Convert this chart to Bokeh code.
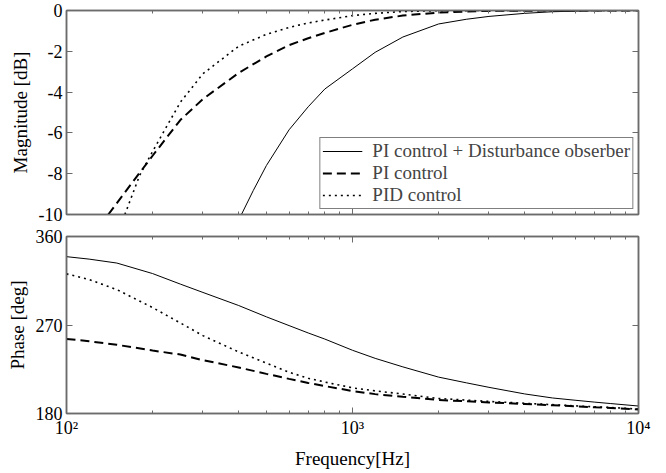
from bokeh.plotting import figure
from bokeh.layouts import column
from bokeh.models import (FixedTicker, LinearAxis, LogAxis, CustomJSTickFormatter,
                          Range1d, Legend, LegendItem)
from bokeh.embed import file_html
from bokeh.resources import INLINE

# ---------------- data ----------------
x_major = [100, 1000, 10000]
x_minor = [m * d for d in (100, 1000) for m in range(2, 10)]
x_tick_labels = {100: "10²", 1000: "10³", 10000: "10⁴"}
mag_ticks = [-10, -8, -6, -4, -2, 0]
phase_ticks = [180, 270, 360]

legend_labels = ["PI control + Disturbance obserber", "PI control", "PID control"]

mag_dob_freq = [409, 450, 500, 600, 700, 800, 1000, 1200, 1500, 2000, 2500, 3000, 4000, 5000, 7000, 10000]
mag_dob = [-10, -8.82, -7.6, -5.85, -4.72, -3.85, -2.86, -2.05, -1.3, -0.66, -0.43, -0.29, -0.14, -0.06, -0.01, 0]

mag_pi_freq = [140, 175, 200, 250, 300, 400, 500, 600, 700, 800, 1000, 1200, 1500, 2000, 2500, 3000, 5000, 10000]
mag_pi = [-10, -8.19, -7.12, -5.37, -4.34, -3.06, -2.25, -1.7, -1.36, -1.1, -0.7, -0.45, -0.25, -0.1, -0.05, -0.02, 0, 0]

mag_pid_freq = [160, 180, 200, 250, 300, 400, 500, 600, 700, 800, 1000, 1200, 1500, 2000, 3000, 10000]
mag_pid = [-10, -8.1, -6.91, -4.5, -3.1, -1.75, -1.17, -0.83, -0.61, -0.47, -0.25, -0.14, -0.05, -0.01, 0, 0]

phase_freq = [100, 120, 150, 200, 250, 300, 400, 500, 600, 700, 800, 1000, 1200, 1500,
              2000, 2500, 3000, 4000, 5000, 6000, 7000, 8000, 10000]
phase_dob = [339.5, 337, 333, 322.3, 311.6, 303.1, 289.8, 278.3, 269.4, 261.9, 255.7, 244.3,
             236.1, 227.4, 217, 211.2, 206.6, 199.9, 195.8, 193.5, 191.6, 190.1, 187.6]
phase_pi = [255.8, 253.5, 249.9, 244, 240, 234.2, 226.8, 220.3, 215.2, 211.1, 207.9, 202.9,
            199.7, 197, 193.7, 192.4, 191.3, 189.7, 188.4, 187.3, 186.3, 185.6, 184]
phase_pid = [322, 316.2, 306, 287.7, 272.1, 259.2, 242.6, 231.2, 222, 215.8, 212, 206.1,
             203, 199.8, 195.3, 193.6, 192.3, 190.4, 189, 187.8, 186.8, 186.1, 184.5]

# ---------------- style ----------------
FONT = "Liberation Serif"
FS = "19px"
TS = "18px"
FRAME = "#6b6b6b"


def style(ax, ticker, show_labels):
    ax.ticker = ticker
    ax.axis_line_color = FRAME
    ax.axis_line_width = 1.5
    ax.major_tick_line_color = FRAME
    ax.minor_tick_line_color = FRAME
    ax.major_tick_in = 6
    ax.major_tick_out = 0
    ax.minor_tick_in = 3
    ax.minor_tick_out = 0
    ax.major_label_text_font = FONT
    ax.axis_label_text_font = FONT
    ax.axis_label_text_font_style = "normal"
    ax.axis_label_text_font_size = FS
    ax.axis_label_text_color = "black"
    ax.major_label_text_color = "black"
    if show_labels:
        ax.major_label_text_font_size = TS
        ax.major_label_standoff = 4
        ax.axis_label_standoff = 5
    else:
        ax.formatter = CustomJSTickFormatter(code="return ''")
        ax.major_label_text_font_size = "1px"
        ax.major_label_standoff = 0
        ax.axis_label_standoff = 0


def xticker():
    return FixedTicker(ticks=x_major, minor_ticks=x_minor)


def make_fig(height, yr, top, bottom):
    p = figure(width=660, height=height, x_axis_type="log",
               x_range=Range1d(100, 10000), y_range=Range1d(*yr),
               output_backend="svg", toolbar_location=None,
               min_border_left=66, min_border_right=22,
               min_border_top=top, min_border_bottom=bottom)
    p.xgrid.visible = False
    p.ygrid.visible = False
    p.outline_line_color = FRAME
    p.outline_line_width = 1.5
    p.background_fill_color = "white"
    p.border_fill_color = "white"
    return p


# ---------------- magnitude ----------------
p1 = make_fig(225, (-10, 0), 10, 11)
r1 = p1.line(mag_dob_freq, mag_dob, line_color="black", line_width=1)
r2 = p1.line(mag_pi_freq, mag_pi, line_color="black", line_width=2, line_dash="9 5")
r3 = p1.line(mag_pid_freq, mag_pid, line_color="black", line_width=1.6, line_dash="2 4")

style(p1.xaxis[0], xticker(), False)
p1.yaxis[0].axis_label = "Magnitude [dB]"
style(p1.yaxis[0], FixedTicker(ticks=mag_ticks, minor_ticks=[]), True)
p1.yaxis[0].major_label_overrides = {t: str(t) for t in mag_ticks}
ax = LogAxis()
style(ax, xticker(), False)
p1.add_layout(ax, "above")
ax = LinearAxis()
style(ax, FixedTicker(ticks=mag_ticks, minor_ticks=[]), False)
p1.add_layout(ax, "right")

legend = Legend(items=[LegendItem(label=legend_labels[0], renderers=[r1]),
                       LegendItem(label=legend_labels[1], renderers=[r2]),
                       LegendItem(label=legend_labels[2], renderers=[r3])],
                location="bottom_right")
legend.margin = 5
legend.padding = 2
legend.spacing = 0
legend.glyph_width = 40
legend.glyph_height = 22
legend.label_height = 22
legend.label_standoff = 10
legend.label_text_font = FONT
legend.label_text_font_size = FS
legend.border_line_color = "black"
legend.border_line_width = 1
legend.background_fill_color = "white"
legend.background_fill_alpha = 1
p1.add_layout(legend)

# ---------------- phase ----------------
p2 = make_fig(246, (180, 360), 11, 54)
p2.line(phase_freq, phase_dob, line_color="black", line_width=1)
p2.line(phase_freq, phase_pi, line_color="black", line_width=2, line_dash="9 5")
p2.line(phase_freq, phase_pid, line_color="black", line_width=1.6, line_dash="2 4")

p2.xaxis[0].axis_label = "Frequency[Hz]"
style(p2.xaxis[0], xticker(), True)
p2.xaxis[0].major_label_overrides = x_tick_labels
p2.xaxis[0].major_label_standoff = 4
p2.xaxis[0].axis_label_standoff = 7
p2.yaxis[0].axis_label = "Phase [deg]"
style(p2.yaxis[0], FixedTicker(ticks=phase_ticks, minor_ticks=[]), True)
ax = LogAxis()
style(ax, xticker(), False)
p2.add_layout(ax, "above")
ax = LinearAxis()
style(ax, FixedTicker(ticks=phase_ticks, minor_ticks=[]), False)
p2.add_layout(ax, "right")

layout = column(p1, p2, spacing=0)
open("out.html", "w").write(file_html(layout, INLINE))
